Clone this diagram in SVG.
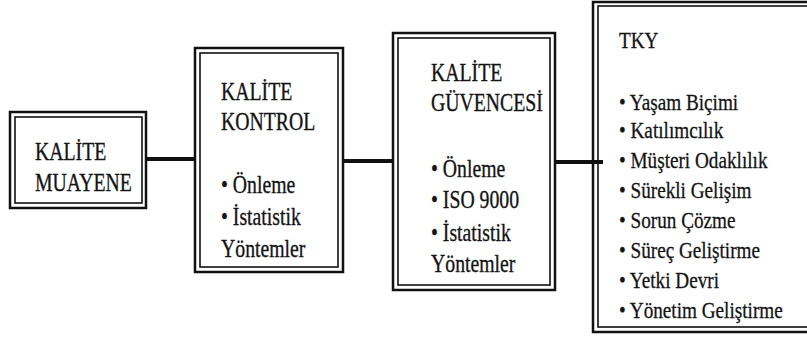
<svg xmlns="http://www.w3.org/2000/svg" width="807" height="338" viewBox="0 0 807 338">
<style>
.outer{fill:none;stroke:#111;stroke-width:2.5}
.inner{fill:none;stroke:#111;stroke-width:1.6}
.t{font-family:'Liberation Serif','Times New Roman',serif;font-size:26px;fill:#141414;stroke:#141414;stroke-width:0.35}
.s{font-family:'Liberation Serif','Times New Roman',serif;font-size:24px;fill:#141414;stroke:#141414;stroke-width:0.3}
.conn{stroke:#111;stroke-width:4;fill:none}
</style>
<rect width="807" height="338" fill="#fff"/>
<g id="connectors">
<line class="conn" x1="146" y1="159" x2="196" y2="159"/>
<line class="conn" x1="342" y1="161" x2="394" y2="161"/>
<line class="conn" x1="554" y1="162" x2="603" y2="162"/>
</g>
<g id="kalite-muayene">
<rect class="outer" x="10" y="112" width="136" height="96"/>
<rect class="inner" x="15" y="117" width="127" height="86"/>
<g transform="translate(35,0) scale(0.76,1)">
<text class="t" x="0" y="160">KALİTE</text>
<text class="t" x="0" y="191">MUAYENE</text>
</g>
</g>
<g id="kalite-kontrol">
<rect class="outer" x="195" y="48" width="148" height="224"/>
<rect class="inner" x="200" y="53" width="138" height="214"/>
<g transform="translate(221,0) scale(0.76,1)">
<text class="t" x="0" y="100">KALİTE</text>
<text class="t" x="0" y="130">KONTROL</text>
<text class="t" x="0" y="193">• Önleme</text>
<text class="t" x="0" y="225">• İstatistik</text>
<text class="t" x="0" y="257">Yöntemler</text>
</g>
</g>
<g id="kalite-guvencesi">
<rect class="outer" x="393" y="33" width="162" height="257"/>
<rect class="inner" x="398" y="38" width="152" height="247"/>
<g transform="translate(431,0) scale(0.76,1)">
<text class="t" x="0" y="81">KALİTE</text>
<text class="t" x="0" y="111">GÜVENCESİ</text>
<text class="t" x="0" y="177">• Önleme</text>
<text class="t" x="0" y="208">• ISO 9000</text>
<text class="t" x="0" y="241">• İstatistik</text>
<text class="t" x="0" y="272">Yöntemler</text>
</g>
</g>
<g id="tky">
<rect class="outer" x="593" y="2" width="240" height="330"/>
<rect class="inner" x="598" y="6" width="240" height="321"/>
<g transform="translate(619,0) scale(0.8,1)">
<text class="s" x="0" y="48">TKY</text>
<text class="s" x="0" y="110">• Yaşam Biçimi</text>
<text class="s" x="0" y="138">• Katılımcılık</text>
<text class="s" x="0" y="168">• Müşteri Odaklılık</text>
<text class="s" x="0" y="198">• Sürekli Gelişim</text>
<text class="s" x="0" y="228">• Sorun Çözme</text>
<text class="s" x="0" y="258">• Süreç Geliştirme</text>
<text class="s" x="0" y="288">• Yetki Devri</text>
<text class="s" x="0" y="318">• Yönetim Geliştirme</text>
</g>
</g>
</svg>
